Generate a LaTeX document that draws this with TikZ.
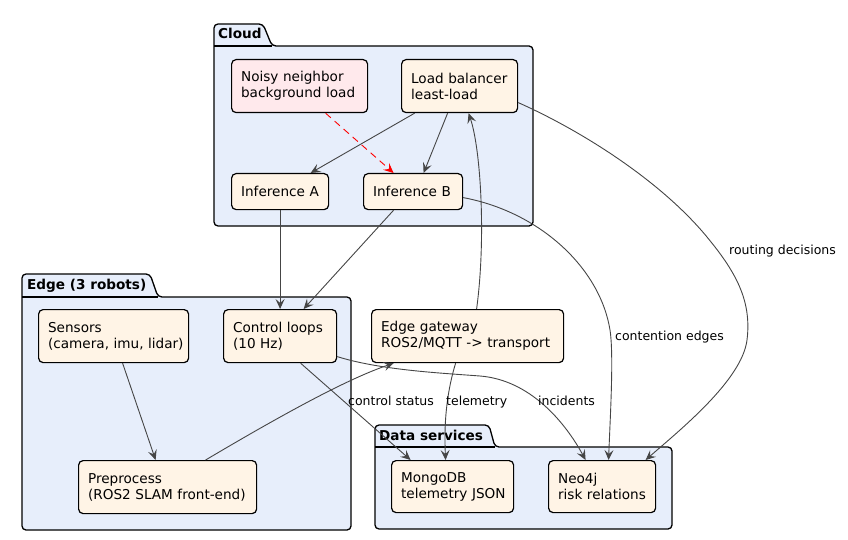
\documentclass[tikz,border=0pt]{standalone}
\usepackage{fontspec}
\setmainfont{DejaVu Sans}
\usetikzlibrary{arrows.meta}
\definecolor{pkgfill}{HTML}{E7EEFB}
\definecolor{boxfill}{HTML}{FFF4E6}
\definecolor{noisyfill}{HTML}{FFE9EC}
\definecolor{edgecol}{HTML}{454545}
\newcommand\nodefont{\fontsize{13.6}{16}\selectfont}
\newcommand\lblfont{\fontsize{12.5}{15}\selectfont}
\newcommand\pkgfont{\fontsize{13.6}{16}\selectfont\bfseries}
\newcommand\twolines[2]{\mbox{#1}\\\mbox{#2}}
\tikzset{
  pkg/.style={fill=pkgfill, draw=black, line width=1.3pt, rounded corners=4pt},
  pkgtitle/.style={anchor=base west, inner sep=0pt, font=\pkgfont},
  box/.style={draw=black, fill=boxfill, line width=1.2pt, rounded corners=4.5pt,
    anchor=north west, align=left, inner xsep=9.5pt, inner ysep=0pt, font=\nodefont},
  noisy/.style={box, fill=noisyfill},
  conn/.style={draw=edgecol, line width=0.9pt, -{Stealth[length=10pt,width=9pt,inset=4pt]}},
  redconn/.style={draw=red, line width=0.9pt, dash pattern=on 7pt off 5pt,
    -{Stealth[length=10pt,width=9pt,inset=4pt]}},
  lbl/.style={anchor=base west, inner sep=0pt, font=\lblfont, text=black}
}
\begin{document}
\begin{tikzpicture}[x=1pt,y=-1pt]
\useasboundingbox (0,0) rectangle (848,540);
% ---------- packages ----------
% Cloud
\filldraw[pkg] (214,70) -- (214,24) -- (263,24) -- (272,46) -- (533,46) -- (533,226) -- (214,226) -- cycle;
\draw[line width=1.3pt] (214,46) -- (272,46);
\node[pkgtitle] (tcloud) at (218,39) {Cloud};
% Edge
\filldraw[pkg] (22,320) -- (22,274) -- (150,274) -- (158,297) -- (351,297) -- (351,530) -- (22,530) -- cycle;
\draw[line width=1.3pt] (22,297) -- (158,297);
\node[pkgtitle] (tedge) at (27,289) {Edge (3 robots)};
% Data services
\filldraw[pkg] (375,470) -- (375,425) -- (489,425) -- (495,447) -- (672,447) -- (672,529) -- (375,529) -- cycle;
\draw[line width=1.3pt] (375,447) -- (495,447);
\node[pkgtitle] (tdata) at (379,440) {Data services};
% ---------- nodes ----------
\node[noisy, minimum width=136pt, minimum height=53pt, text width=117pt] (noisy) at (231,59) {\twolines{Noisy neighbor}{background load}};
\node[box, minimum width=116pt, minimum height=53pt, text width=97pt] (lb) at (401,59) {\twolines{Load balancer}{least-load}};
\node[box, minimum width=97pt, minimum height=36pt, text width=78pt] (infA) at (231,173) {\mbox{Inference A}};
\node[box, minimum width=99pt, minimum height=36pt, text width=80pt] (infB) at (363,173) {\mbox{Inference B}};
\node[box, minimum width=150pt, minimum height=53pt, text width=131pt] (sens) at (38,309) {\twolines{Sensors}{(camera, imu, lidar)}};
\node[box, minimum width=113pt, minimum height=53pt, text width=94pt] (ctrl) at (223,309) {\twolines{Control loops}{(10 Hz)}};
\node[box, minimum width=192pt, minimum height=53pt, text width=173pt] (gw) at (371,309) {\twolines{Edge gateway}{ROS2/MQTT -> transport}};
\node[box, minimum width=178pt, minimum height=53pt, text width=159pt] (pre) at (78,460) {\twolines{Preprocess}{(ROS2 SLAM front-end)}};
\node[box, minimum width=122pt, minimum height=52pt, text width=103pt] (mongo) at (391,460) {\twolines{MongoDB}{telemetry JSON}};
\node[box, minimum width=107pt, minimum height=52pt, text width=88pt] (neo) at (548,460) {\twolines{Neo4j}{risk relations}};
% ---------- connectors ----------
\draw[conn] ([xshift=-45pt]lb.south) -- ([xshift=30.5pt]infA.north);
\draw[conn] ([xshift=-12pt]lb.south) -- ([xshift=10.5pt]infB.north);
\draw[redconn] ([xshift=26pt]noisy.south) -- ([xshift=-19.5pt]infB.north);
\draw[conn] (infA.south) -- (ctrl.north);
\draw[conn] ([xshift=-19.5pt]infB.south) -- ([xshift=23.5pt]ctrl.north);
\draw[conn] ([xshift=9pt]gw.north) .. controls (486,240) and (481,150) .. ([xshift=9pt]lb.south);
\draw[conn] ([yshift=-16.5pt]lb.east) .. controls (580,130) and (660,180) .. (707,237)
   .. controls (735,271) and (752,300) .. (747,340)
   .. controls (742,380) and (680,430) .. ([xshift=43.5pt]neo.north);
\draw[conn] ([yshift=-6pt]infB.east) .. controls (540,212) and (600,268) .. (610,330)
   .. controls (614,356) and (610,420) .. ([xshift=6.5pt]neo.north);
\draw[conn] ([xshift=9pt]sens.south) -- ([xshift=-12pt]pre.north);
\draw[conn] ([xshift=38pt]pre.north) .. controls (290,410) and (350,378) .. ([xshift=-74pt]gw.south);
\draw[conn] ([xshift=20.5pt]ctrl.south) -- ([xshift=-42pt]mongo.north);
\draw[conn] ([yshift=-20.5pt]ctrl.east) .. controls (380,370) and (440,373) .. (480,376)
   .. controls (530,380) and (565,422) .. ([xshift=-16.5pt]neo.north);
\draw[conn] ([xshift=-12pt]gw.south) .. controls (446,395) and (444,425) .. ([xshift=-7pt]mongo.north);
% ---------- labels ----------
\node[lbl] (lroute) at (729,254) {routing decisions};
\node[lbl] (lcont) at (615,340) {contention edges};
\node[lbl] (lctrl) at (348,405) {control status};
\node[lbl] (ltele) at (446,405) {telemetry};
\node[lbl] (linc) at (538,405) {incidents};
\end{tikzpicture}
\end{document}
